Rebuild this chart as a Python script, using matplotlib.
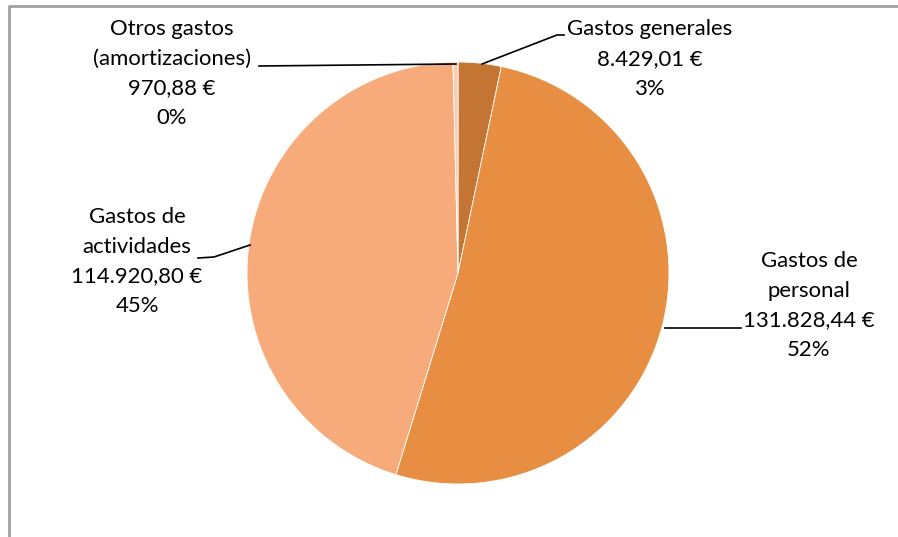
import matplotlib
matplotlib.use("Agg")
import matplotlib.pyplot as plt

# ---- data ----
categories = ["Gastos generales", "Gastos de personal", "Gastos de actividades",
              "Otros gastos (amortizaciones)"]
values = [8429.01, 131828.44, 114920.80, 970.88]
value_labels = ["8.429,01 €", "131.828,44 €", "114.920,80 €", "970,88 €"]
pct_labels = ["3%", "52%", "45%", "0%"]
label_names = ["Gastos generales", "Gastos de\npersonal", "Gastos de\nactividades",
               "Otros gastos\n(amortizaciones)"]
colors = ["#C47534", "#E88E42", "#F7AB7A", "#F9CDB2"]

W, H = 898, 537
fig = plt.figure(figsize=(W / 100, H / 100), dpi=100)
ax = fig.add_axes([0, 0, 1, 1])


def Y(y):
    return H - y


cx, cy, r = 458, 273, 211
ax.pie(values, colors=colors, startangle=90, counterclock=False,
       center=(cx, Y(cy)), radius=r, frame=True,
       wedgeprops=dict(edgecolor="white", linewidth=0.6))
ax.set_xlim(0, W)
ax.set_ylim(0, H)
ax.set_aspect("equal")
ax.axis("off")

# chart border (top and left visible)
ax.plot([8, W], [Y(6), Y(6)], color="#A0A0A0", lw=2, solid_capstyle="butt")
ax.plot([8.5, 8.5], [Y(6), 0], color="#A0A0A0", lw=2, solid_capstyle="butt")

font = dict(family=["Lato", "DejaVu Sans"], fontsize=15.9, color="#000000",
            ha="center", va="center", linespacing=1.6)

# label layout (text centre x, first-line y, in pixels from top)
label_pos = [(650, 30), (809, 262), (137, 218), (172, 30)]
for name, val, pct, (lx, ly) in zip(label_names, value_labels, pct_labels, label_pos):
    text = f"{name}\n{val}\n{pct}"
    nlines = text.count("\n") + 1
    ymid = ly + (nlines - 1) * 29 / 2
    ax.text(lx, Y(ymid), text, **font)

# leader lines
leaders = [
    [(482, 64), (557, 35), (564, 35)],
    [(665, 328), (741, 328)],
    [(198, 258), (214, 257), (250, 245)],
    [(259, 66), (456, 64)],
]
for pts in leaders:
    xs = [p[0] for p in pts]
    ys = [Y(p[1]) for p in pts]
    ax.plot(xs, ys, color="black", lw=1.2)

fig.savefig("out.png", dpi=100)
